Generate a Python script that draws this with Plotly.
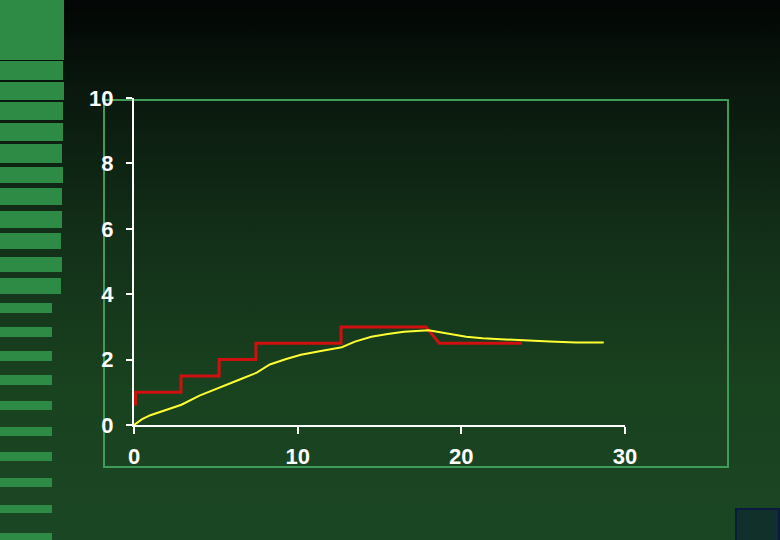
import base64
import plotly.graph_objects as go

# ---- data ----
red_x = [0.1, 0.1, 2.87, 2.87, 5.2, 5.2, 7.45, 7.45, 12.65, 12.65, 17.84, 18.65, 23.7]
red_y = [0.6, 1.0, 1.0, 1.5, 1.5, 2.0, 2.0, 2.5, 2.5, 3.0, 3.0, 2.5, 2.5]

yel_x = [0, 0.5, 1.0, 2.0, 2.9, 4.0, 5.3, 6.5, 7.5, 8.3, 9.3, 10.2, 11.5, 12.7, 13.5,
         14.5, 15.5, 16.5, 18.0, 19.3, 20.3, 21.3, 22.4, 23.6, 25.4, 27.0, 28.7]
yel_y = [0, 0.18, 0.3, 0.48, 0.62, 0.9, 1.15, 1.4, 1.6, 1.85, 2.02, 2.15, 2.27, 2.38, 2.55,
         2.7, 2.78, 2.85, 2.9, 2.8, 2.7, 2.65, 2.62, 2.58, 2.55, 2.52, 2.52]

x_ticks = [0, 10, 20, 30]
y_ticks = [0, 2, 4, 6, 8, 10]

# ---- layout geometry (pixels) ----
W, H = 780, 540
L, R, T, B = 134, 155, 98, 115
PW, PH = W - L - R, H - T - B


def px(xp):
    return (xp - L) / PW


def py(yp):
    return (H - B - yp) / PH


fig = go.Figure()
fig.add_trace(go.Scatter(x=red_x, y=red_y, mode="lines",
                         line=dict(color="#d01010", width=3), hoverinfo="skip"))
fig.add_trace(go.Scatter(x=yel_x, y=yel_y, mode="lines",
                         line=dict(color="#ffff33", width=2), hoverinfo="skip"))

# background gradient
svg = ('<svg xmlns="http://www.w3.org/2000/svg" width="780" height="540" preserveAspectRatio="none">'
       '<defs><linearGradient id="g" x1="0" y1="0" x2="0" y2="1">'
       '<stop offset="0" stop-color="#020604"/>'
       '<stop offset="0.18" stop-color="#0a190e"/>'
       '<stop offset="0.45" stop-color="#133019"/>'
       '<stop offset="0.72" stop-color="#19421f"/>'
       '<stop offset="1" stop-color="#1b4624"/>'
       '</linearGradient></defs>'
       '<rect width="780" height="540" fill="url(#g)"/></svg>')
src = "data:image/svg+xml;base64," + base64.b64encode(svg.encode()).decode()
fig.add_layout_image(dict(source=src, xref="paper", yref="paper",
                          x=px(0), y=py(0), sizex=W / PW, sizey=H / PH,
                          xanchor="left", yanchor="top", sizing="stretch",
                          layer="below"))

shapes = []
bar_col = "#2e8b46"
# left decorative bars: (top, bottom, right)
bars = [(0, 60, 64), (61, 80, 63), (82, 100, 64), (102, 120, 63), (123, 141, 63),
        (144, 163, 62), (167, 183, 63), (188, 205, 62), (211, 228, 62), (233, 249, 61),
        (257, 272, 62), (278, 294, 61), (303, 313, 52), (327, 337, 52), (351, 361, 52),
        (375, 385, 52), (401, 410, 52), (427, 436, 52), (452, 461, 52), (478, 487, 52),
        (505, 513, 52), (533, 541, 52)]
for t, b, r in bars:
    shapes.append(dict(type="rect", xref="paper", yref="paper",
                       x0=px(0), x1=px(r), y0=py(b), y1=py(t),
                       fillcolor=bar_col, line=dict(width=0), layer="below"))
# frame
shapes.append(dict(type="rect", xref="paper", yref="paper",
                   x0=px(104), x1=px(728), y0=py(467), y1=py(100),
                   line=dict(color="#3f9c58", width=2), fillcolor="rgba(0,0,0,0)",
                   layer="below"))
# small square bottom right
shapes.append(dict(type="rect", xref="paper", yref="paper",
                   x0=px(736), x1=px(779), y0=py(541), y1=py(509),
                   line=dict(color="#0b1a40", width=2), fillcolor="#12302a",
                   layer="below"))

tick_font = dict(family="Liberation Sans, Arial, sans-serif", size=22,
                 color="white", weight="bold")

fig.update_layout(
    width=W, height=H,
    margin=dict(l=L, r=R, t=T, b=B, pad=0),
    paper_bgcolor="#133019",
    plot_bgcolor="rgba(0,0,0,0)",
    showlegend=False,
    shapes=shapes,
    xaxis=dict(range=[0, 30], tickvals=x_ticks, showgrid=False, zeroline=False,
               showline=True, linecolor="white", linewidth=2,
               ticks="outside", ticklen=7, tickwidth=2, tickcolor="white",
               tickfont=tick_font, ticklabelstandoff=4, fixedrange=True),
    yaxis=dict(range=[0, 10], tickvals=y_ticks, showgrid=False, zeroline=False,
               showline=True, linecolor="white", linewidth=2,
               ticks="outside", ticklen=6, tickwidth=2, tickcolor="white",
               tickfont=tick_font, ticklabelstandoff=8, fixedrange=True),
)

fig.write_html("out.html", config={"displayModeBar": False},
               post_script="document.body.style.margin='0';document.body.style.overflow='hidden';")
